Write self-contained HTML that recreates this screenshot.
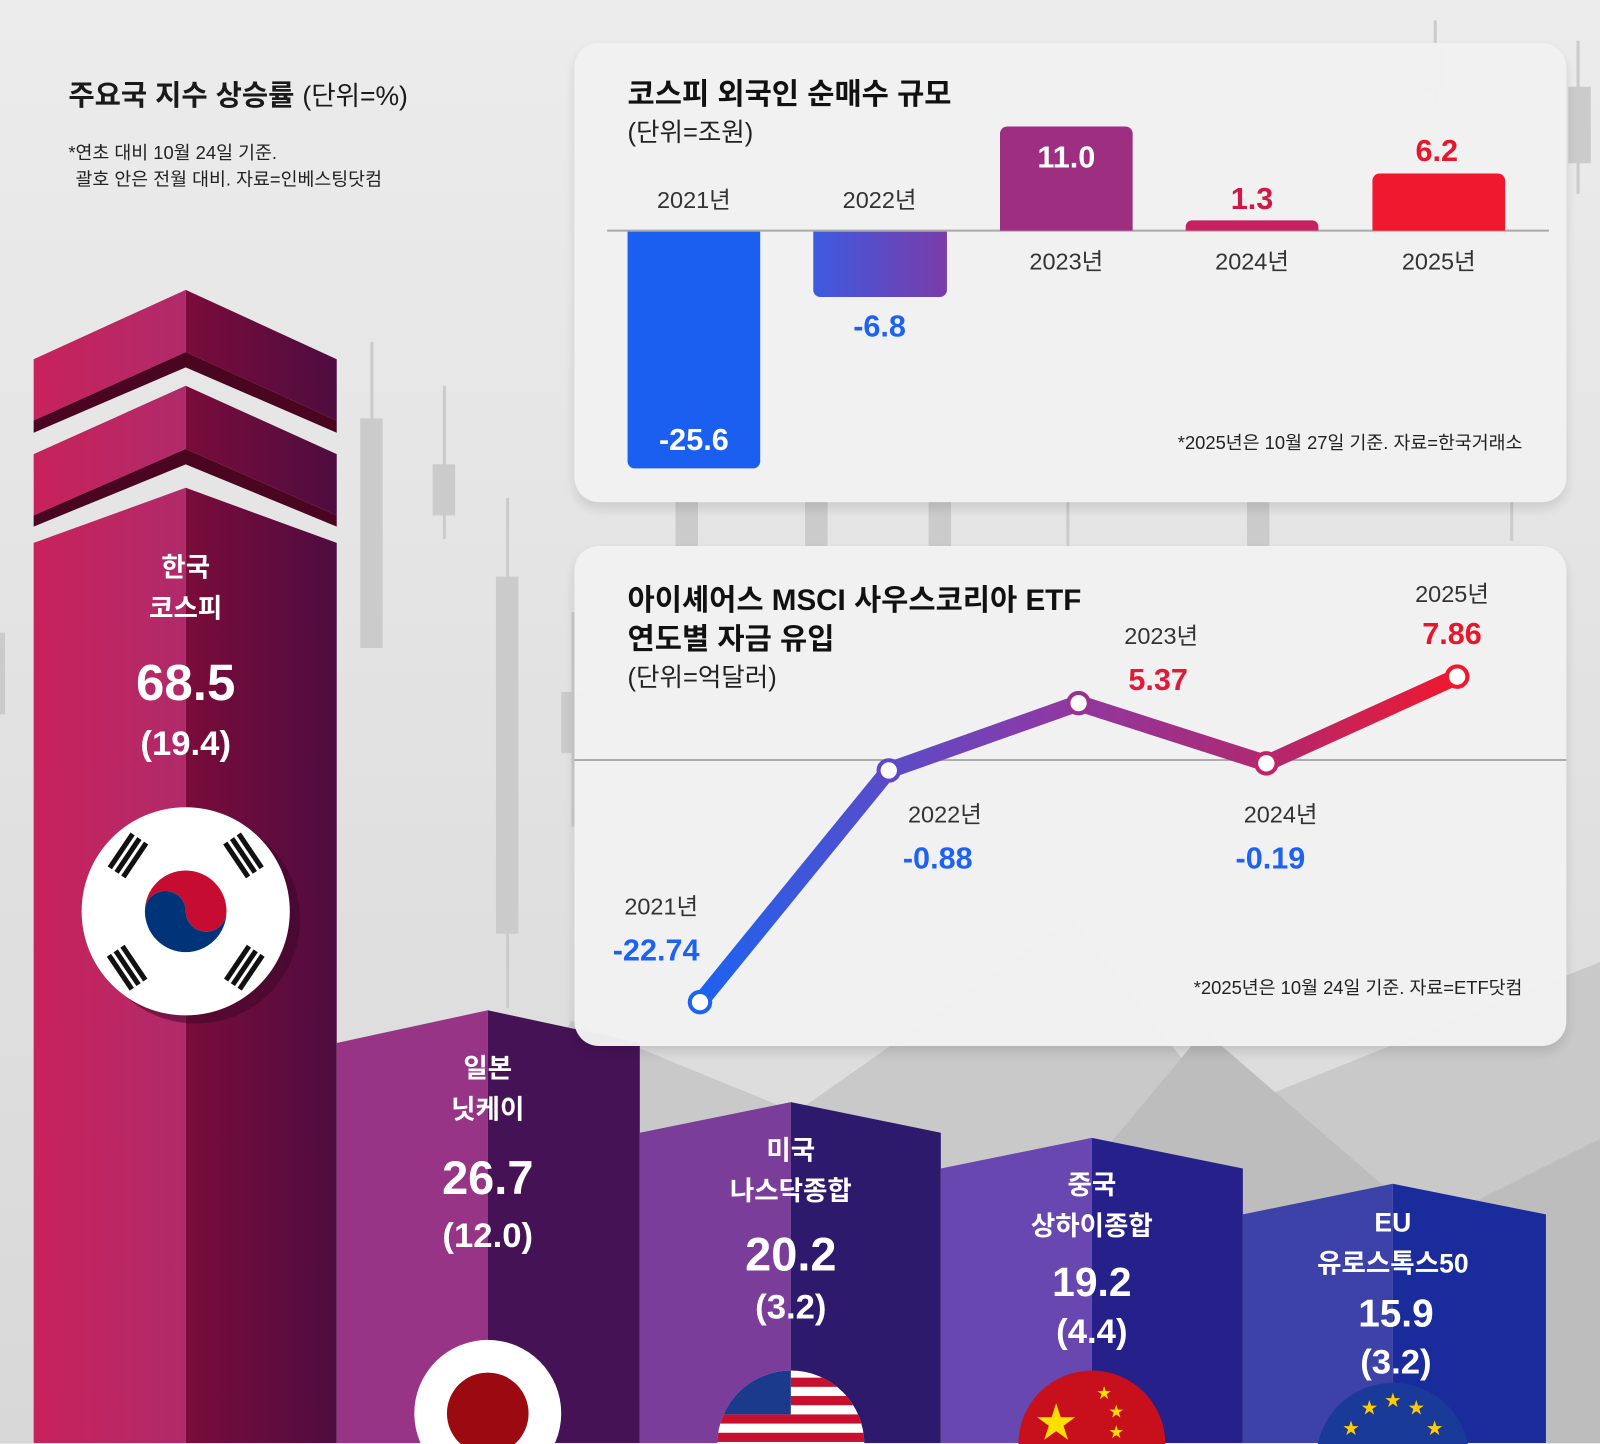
<!DOCTYPE html>
<html><head><meta charset="utf-8"><style>
html,body{margin:0;padding:0;background:#e3e3e3;}
svg{display:block}
text{font-family:"Liberation Sans","Noto Sans CJK KR",sans-serif;}
</style></head><body>
<svg width="1600" height="1444" viewBox="0 0 1568 1415" preserveAspectRatio="none" xmlns="http://www.w3.org/2000/svg">
<defs>
<linearGradient id="bg" x1="0" y1="0" x2="0" y2="1"><stop offset="0" stop-color="#ececec"/><stop offset="1" stop-color="#d8d8d8"/></linearGradient>
<linearGradient id="kl" x1="0" x2="1"><stop offset="0" stop-color="#c8225a"/><stop offset="1" stop-color="#b02a6a"/></linearGradient>
<linearGradient id="kr" x1="0" x2="1"><stop offset="0" stop-color="#7a0c3a"/><stop offset="1" stop-color="#4e0c40"/></linearGradient>
<linearGradient id="b22" x1="0" x2="1"><stop offset="0" stop-color="#3d5ae0"/><stop offset="1" stop-color="#7a3ca8"/></linearGradient>
<linearGradient id="ln" x1="686" y1="0" x2="1428" y2="0" gradientUnits="userSpaceOnUse"><stop offset="0" stop-color="#1d62f0"/><stop offset="0.45" stop-color="#8a3aa8"/><stop offset="0.75" stop-color="#b02870"/><stop offset="1" stop-color="#f0182e"/></linearGradient>
<filter id="sh" x="-5%" y="-5%" width="110%" height="115%"><feDropShadow dx="0" dy="6" stdDeviation="6" flood-color="#000" flood-opacity="0.12"/></filter>
</defs>
<rect width="1568" height="1415" fill="url(#bg)"/>
<polygon points="330,1420 560,1000 780,1090 1050,900 1200,1090 1600,930 1600,1420" fill="#c9c9c9"/>
<polygon points="600,1420 790,1090 980,1250 1180,1010 1400,1200 1600,1100 1600,1420" fill="#bdbdbd"/>
<g fill="#cbcbcb">
<rect x="363" y="335" width="3" height="300"/><rect x="353" y="410" width="22" height="225"/>
<rect x="434" y="378" width="3" height="150"/><rect x="424" y="455" width="22" height="50"/>
<rect x="496" y="488" width="3" height="500"/><rect x="486" y="565" width="22" height="350"/>
<rect x="560" y="600" width="3" height="210"/><rect x="550" y="678" width="22" height="60"/>
<rect x="0" y="620" width="5" height="80"/>
<rect x="1405" y="20" width="3" height="80"/><rect x="1395" y="48" width="22" height="40"/>
<rect x="1545" y="40" width="3" height="150"/><rect x="1537" y="85" width="22" height="75"/>
<rect x="1480" y="490" width="3" height="40"/><rect x="1222" y="490" width="22" height="45"/>
<rect x="662" y="490" width="22" height="45"/><rect x="789" y="490" width="22" height="45"/><rect x="910" y="490" width="22" height="45"/><rect x="1045" y="490" width="3" height="45"/>
</g>
<text x="67" y="103" font-size="28" font-weight="bold" fill="#1a1a1a">주요국 지수 상승률 <tspan font-weight="normal" font-size="26">(단위=%)</tspan></text>
<text x="67" y="156" font-size="18" fill="#222">*연초 대비 10월 24일 기준.</text>
<text x="74" y="182" font-size="18" fill="#222">괄호 안은 전월 대비. 자료=인베스팅닷컴</text>
<polygon points="33,352 182,284 182,345 33,412" fill="url(#kl)"/>
<polygon points="182,284 330,352 330,412 182,345" fill="url(#kr)"/>
<polygon points="33,412 182,345 330,412 330,424 182,360 33,424" fill="#4a0620"/>
<polygon points="33,445 182,378 182,440 33,505" fill="url(#kl)"/>
<polygon points="182,378 330,445 330,505 182,440" fill="url(#kr)"/>
<polygon points="33,505 182,440 330,505 330,516 182,455 33,516" fill="#4a0620"/>
<polygon points="33,532 182,478 182,1420 33,1420" fill="url(#kl)"/>
<polygon points="182,478 330,532 330,1420 182,1420" fill="url(#kr)"/>
<polygon points="330,1022 478,990 478,1420 330,1420" fill="#983486"/>
<polygon points="478,990 627,1022 627,1420 478,1420" fill="#461256"/>
<polygon points="627,1110 775,1080 775,1420 627,1420" fill="#7a3e9a"/>
<polygon points="775,1080 922,1110 922,1420 775,1420" fill="#2e1a6c"/>
<polygon points="922,1145 1070,1115 1070,1420 922,1420" fill="#6848b0"/>
<polygon points="1070,1115 1218,1145 1218,1420 1070,1420" fill="#26208a"/>
<polygon points="1218,1190 1365,1160 1365,1420 1218,1420" fill="#3c42a8"/>
<polygon points="1365,1160 1515,1190 1515,1420 1365,1420" fill="#1a2c9c"/>
<rect x="0" y="1414" width="1568" height="30" fill="#e6e6e6"/>
<g fill="#fff" text-anchor="middle" font-weight="bold">
<text x="182" y="565" font-size="26">한국</text><text x="182" y="605" font-size="26">코스피</text>
<text x="182" y="686" font-size="50">68.5</text><text x="182" y="740" font-size="34">(19.4)</text>
<text x="478" y="1056" font-size="26">일본</text><text x="478" y="1096" font-size="26">닛케이</text>
<text x="478" y="1170" font-size="46">26.7</text><text x="478" y="1222" font-size="34">(12.0)</text>
<text x="775" y="1136" font-size="26">미국</text><text x="775" y="1176" font-size="26">나스닥종합</text>
<text x="775" y="1245" font-size="46">20.2</text><text x="775" y="1292" font-size="34">(3.2)</text>
<text x="1070" y="1170" font-size="26">중국</text><text x="1070" y="1210" font-size="26">상하이종합</text>
<text x="1070" y="1270" font-size="40">19.2</text><text x="1070" y="1316" font-size="34">(4.4)</text>
<text x="1365" y="1207" font-size="26">EU</text><text x="1365" y="1247" font-size="26">유로스톡스50</text>
<text x="1368" y="1300" font-size="38">15.9</text><text x="1368" y="1346" font-size="34">(3.2)</text>
</g>
<g transform="translate(0,-47)">
<circle cx="192" cy="948" r="102" fill="#3a0626" opacity="0.5"/>
<circle cx="182" cy="940" r="102" fill="#fff"/>
<path d="M142,940 a40,40 0 0 1 80,0 a20,20 0 0 1 -40,0 a20,20 0 0 0 -40,0z" fill="#c60c30"/>
<path d="M142,940 a40,40 0 0 0 80,0 a20,20 0 0 1 -40,0 a20,20 0 0 0 -40,0z" fill="#003478"/>
<g fill="#111">
<g transform="rotate(-56 125 885)"><rect x="105" y="875" width="40" height="5"/><rect x="105" y="883" width="40" height="5"/><rect x="105" y="891" width="40" height="5"/></g>
<g transform="rotate(56 239 885)"><rect x="219" y="875" width="40" height="5"/><rect x="219" y="883" width="40" height="5"/><rect x="219" y="891" width="40" height="5"/></g>
<g transform="rotate(56 125 995)"><rect x="105" y="985" width="40" height="5"/><rect x="105" y="993" width="40" height="5"/><rect x="105" y="1001" width="40" height="5"/></g>
<g transform="rotate(-56 239 995)"><rect x="219" y="985" width="40" height="5"/><rect x="219" y="993" width="40" height="5"/><rect x="219" y="1001" width="40" height="5"/></g>
</g></g>
<circle cx="478" cy="1385" r="72" fill="#fff"/><circle cx="478" cy="1385" r="40" fill="#9a0a10"/>
<clipPath id="us"><circle cx="775" cy="1415" r="72"/></clipPath>
<g clip-path="url(#us)"><rect x="700" y="1340" width="160" height="80" fill="#fff"/>
<g fill="#c8102e"><rect x="775" y="1350" width="80" height="9"/><rect x="775" y="1368" width="80" height="9"/><rect x="700" y="1386" width="160" height="9"/><rect x="700" y="1404" width="160" height="9"/></g>
<rect x="700" y="1340" width="75" height="46" fill="#1c3a8c"/></g>
<clipPath id="cn"><circle cx="1070" cy="1415" r="72"/></clipPath>
<g clip-path="url(#cn)"><rect x="990" y="1340" width="170" height="80" fill="#c8101c"/>
<text x="1035" y="1408" font-size="40" fill="#ffde00" text-anchor="middle">★</text>
<text x="1075" y="1370" font-size="14" fill="#ffde00">★</text><text x="1087" y="1388" font-size="14" fill="#ffde00">★</text><text x="1087" y="1408" font-size="14" fill="#ffde00">★</text></g>
<clipPath id="eu"><circle cx="1365" cy="1430" r="75"/></clipPath>
<g clip-path="url(#eu)"><rect x="1285" y="1350" width="170" height="80" fill="#1a3a9a"/>
<g fill="#ffcc00" font-size="16" text-anchor="middle"><text x="1365" y="1378">★</text><text x="1342" y="1385">★</text><text x="1388" y="1385">★</text><text x="1324" y="1405">★</text><text x="1406" y="1405">★</text></g></g>
<rect x="563" y="42" width="972" height="450" rx="24" fill="#f2f2f2" filter="url(#sh)" opacity="0.97"/>
<text x="615" y="102" font-size="29" font-weight="bold" fill="#111">코스피 외국인 순매수 규모</text>
<text x="615" y="138" font-size="25" fill="#222">(단위=조원)</text>
<rect x="595" y="225" width="923" height="2" fill="#aaa"/>
<path d="M615,227 H745 V452 a7,7 0 0 1 -7,7 H622 a7,7 0 0 1 -7,-7z" fill="#1a5ff0"/>
<path d="M797,227 H928 V284 a7,7 0 0 1 -7,7 H804 a7,7 0 0 1 -7,-7z" fill="url(#b22)"/>
<path d="M980,226 V131 a7,7 0 0 1 7,-7 H1103 a7,7 0 0 1 7,7 V226z" fill="#9e2e80"/>
<path d="M1162,226 V222 a6,6 0 0 1 6,-6 H1286 a6,6 0 0 1 6,6 V226z" fill="#c62060"/>
<path d="M1345,226 V177 a7,7 0 0 1 7,-7 H1468 a7,7 0 0 1 7,7 V226z" fill="#f0182e"/>
<g font-size="23" fill="#333" text-anchor="middle">
<text x="680" y="204">2021년</text><text x="862" y="204">2022년</text><text x="1045" y="264">2023년</text><text x="1227" y="264">2024년</text><text x="1410" y="264">2025년</text>
</g>
<g font-size="30" font-weight="bold" text-anchor="middle">
<text x="680" y="441" fill="#fff">-25.6</text><text x="862" y="330" fill="#1d62f0">-6.8</text>
<text x="1045" y="164" fill="#fff">11.0</text><text x="1227" y="205" fill="#d01848">1.3</text><text x="1408" y="158" fill="#e8162a">6.2</text>
</g>
<text x="1492" y="440" font-size="18" fill="#222" text-anchor="end">*2025년은 10월 27일 기준. 자료=한국거래소</text>
<rect x="563" y="535" width="972" height="490" rx="24" fill="#f2f2f2" filter="url(#sh)" opacity="0.97"/>
<text x="615" y="598" font-size="29" font-weight="bold" fill="#111">아이셰어스 MSCI 사우스코리아 ETF</text>
<text x="615" y="636" font-size="29" font-weight="bold" fill="#111">연도별 자금 유입</text>
<text x="615" y="672" font-size="25" fill="#222">(단위=억달러)</text>
<rect x="563" y="744" width="972" height="1.5" fill="#999"/>
<polyline points="686,982 871,755 1057,689 1241,748 1428,663" fill="none" stroke="url(#ln)" stroke-width="16" stroke-linejoin="round"/>
<g fill="#fff" stroke-width="4">
<circle cx="686" cy="982" r="10" stroke="#1d62f0"/><circle cx="871" cy="755" r="10" stroke="#6048c8"/><circle cx="1057" cy="689" r="10" stroke="#9a3090"/><circle cx="1241" cy="748" r="10" stroke="#c02468"/><circle cx="1428" cy="663" r="10" stroke="#f0182e"/>
</g>
<g font-size="23" fill="#333" text-anchor="middle">
<text x="648" y="896">2021년</text><text x="926" y="806">2022년</text><text x="1138" y="631">2023년</text><text x="1255" y="806">2024년</text><text x="1423" y="590">2025년</text>
</g>
<g font-size="30" font-weight="bold" text-anchor="middle">
<text x="643" y="941" fill="#1d62f0">-22.74</text><text x="919" y="851" fill="#1d62f0">-0.88</text>
<text x="1135" y="676" fill="#e01a3a">5.37</text><text x="1245" y="851" fill="#1d62f0">-0.19</text><text x="1423" y="631" fill="#e8162a">7.86</text>
</g>
<text x="1492" y="974" font-size="18" fill="#222" text-anchor="end">*2025년은 10월 24일 기준. 자료=ETF닷컴</text>
</svg>
</body></html>
